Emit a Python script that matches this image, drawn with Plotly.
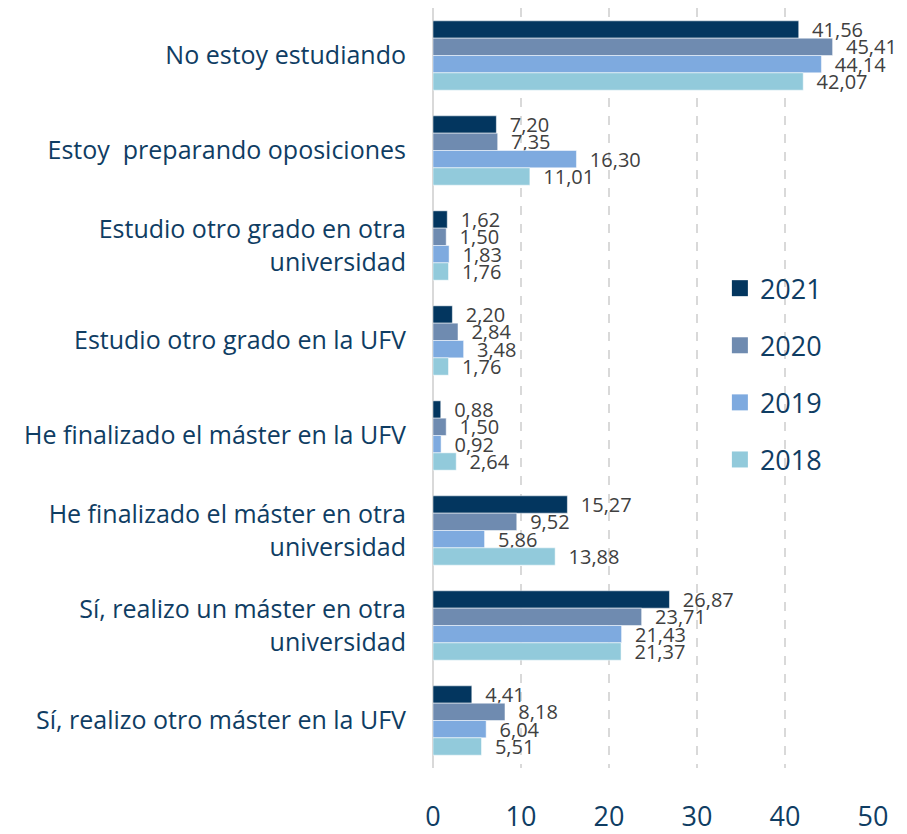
import plotly.graph_objects as go

# categories, top to bottom
categorias = [
    "No estoy estudiando",
    "Estoy  preparando oposiciones",
    "Estudio otro grado en otra<br>universidad",
    "Estudio otro grado en la UFV",
    "He finalizado el máster en la UFV",
    "He finalizado el máster en otra<br>universidad",
    "Sí, realizo un máster en otra<br>universidad",
    "Sí, realizo otro máster en la UFV",
]

v2021 = [41.56, 7.20, 1.62, 2.20, 0.88, 15.27, 26.87, 4.41]
v2020 = [45.41, 7.35, 1.50, 2.84, 1.50, 9.52, 23.71, 8.18]
v2019 = [44.14, 16.30, 1.83, 3.48, 0.92, 5.86, 21.43, 6.04]
v2018 = [42.07, 11.01, 1.76, 1.76, 2.64, 13.88, 21.37, 5.51]

series = [
    ("2021", v2021, "#03365f"),
    ("2020", v2020, "#6f8bb0"),
    ("2019", v2019, "#7eaadf"),
    ("2018", v2018, "#92cadb"),
]

fig = go.Figure()

for name, vals, color in series:
    fig.add_trace(go.Bar(
        y=categorias, x=vals, name=name, orientation="h",
        marker=dict(color=color, line=dict(color="white", width=0.5)),
        texttemplate="\u00a0\u00a0%{x:.2f}", textposition="outside", constraintext="none",
        cliponaxis=False,
        textfont=dict(family="Open Sans", size=20, color="#404040"),
        showlegend=False,
    ))

# legend entries with bigger square symbols
for name, vals, color in series:
    fig.add_trace(go.Scatter(
        x=[None], y=[None], mode="markers", name=name,
        marker=dict(symbol="square", size=16, color=color),
    ))

fig.update_layout(
    width=907, height=834,
    margin=dict(l=425, r=42, t=0, b=74),
    plot_bgcolor="white", paper_bgcolor="white",
    barmode="group", bargap=0.27, bargroupgap=0,
    separators=",.",
    font=dict(family="Open Sans", color="#0f3d63"),
    legend=dict(
        x=0.652, y=0.663, xanchor="left", yanchor="top",
        font=dict(size=27, color="#0f3d63"),
        tracegroupgap=19, traceorder="grouped",
        bgcolor="rgba(0,0,0,0)",
    ),
    xaxis=dict(
        range=[0, 50], dtick=10,
        showgrid=True, gridcolor="#d9d9d9", griddash="dash", gridwidth=2,
        zeroline=True, zerolinecolor="#d9d9d9", zerolinewidth=2,
        tickfont=dict(size=27, color="#0f3d63"),
        ticklabelstandoff=30,
    ),
    yaxis=dict(
        autorange="reversed",
        tickfont=dict(size=25, color="#0f3d63"),
        ticklabelstandoff=26,
        showgrid=False,
    ),
)

# give each legend entry its own group so tracegroupgap spaces them
for i, tr in enumerate(fig.data):
    tr.legendgroup = tr.name

fig.write_html("out.html")
